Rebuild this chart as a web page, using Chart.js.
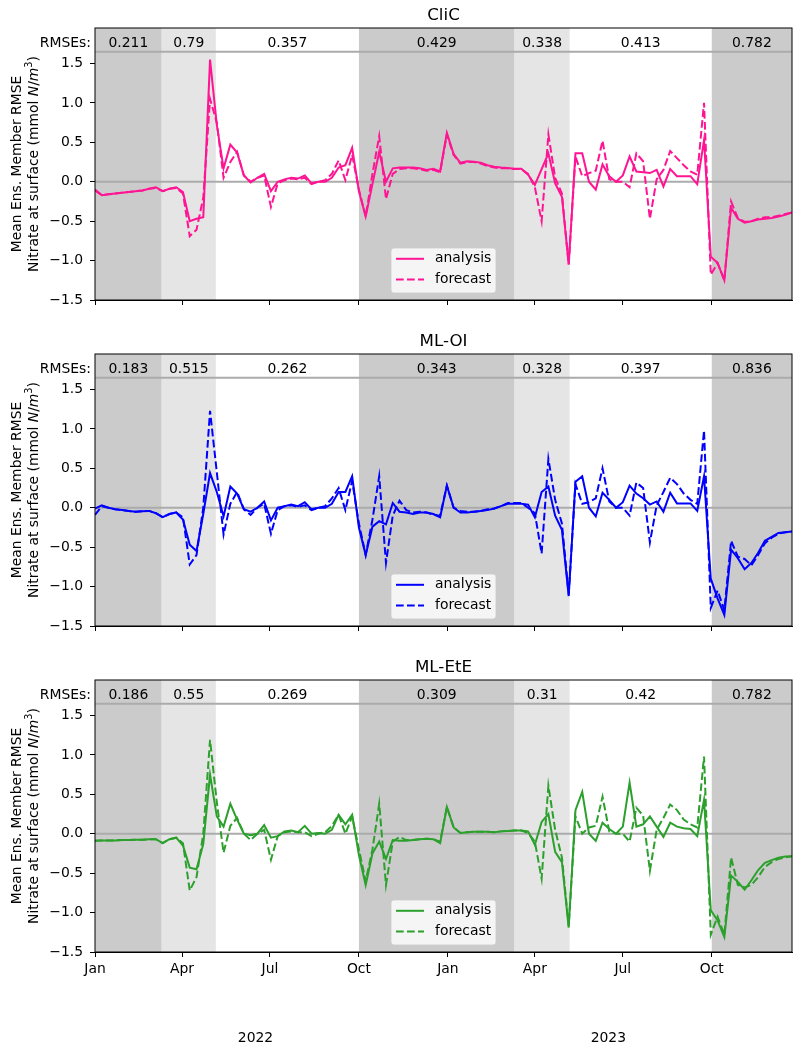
<!DOCTYPE html>
<html>
<head>
<meta charset="utf-8">
<script src="https://cdn.jsdelivr.net/npm/chart.js@4.4.0/dist/chart.umd.min.js"></script>
<style>
  body { margin: 0; background: #fff; }
  canvas { position: absolute; left: 0; }
</style>
</head>
<body>
<canvas id="clic" width="802" height="326" style="top:0"></canvas>
<canvas id="mloi" width="802" height="326" style="top:326px"></canvas>
<canvas id="mlete" width="802" height="399" style="top:652px"></canvas>
<script>
// days since 2022-01-01, weekly
const days = [0, 7, 14, 21, 28, 35, 42, 49, 56, 63, 70, 77, 84, 91, 98, 105, 112, 119, 126, 133,
  140, 147, 154, 161, 168, 175, 182, 189, 196, 203, 210, 217, 224, 231, 238, 245, 252, 259, 266, 273,
  280, 287, 294, 301, 308, 315, 322, 329, 336, 343, 350, 357, 364, 371, 378, 385, 392, 399, 406, 413,
  420, 427, 434, 441, 448, 455, 462, 469, 476, 483, 490, 497, 504, 511, 518, 525, 532, 539, 546, 553,
  560, 567, 574, 581, 588, 595, 602, 609, 616, 623, 630, 637, 644, 651, 658, 665, 672, 679, 686, 693,
  700, 707, 714, 721];

const clicAnalysis = [-0.11, -0.17, -0.16, -0.15, -0.14, -0.13, -0.12, -0.11, -0.09, -0.07,
  -0.12, -0.09, -0.07, -0.13, -0.50, -0.47, -0.45, 1.55, 0.72, 0.17,
  0.47, 0.37, 0.08, -0.01, 0.05, 0.10, -0.12, 0.00, 0.03, 0.05,
  0.04, 0.08, -0.02, 0.00, 0.00, 0.05, 0.18, 0.21, 0.43, -0.12,
  -0.44, -0.03, 0.38, 0.00, 0.17, 0.18, 0.18, 0.18, 0.17, 0.15,
  0.165, 0.13, 0.62, 0.35, 0.24, 0.26, 0.255, 0.24, 0.21, 0.19,
  0.18, 0.175, 0.165, 0.165, 0.09, -0.04, 0.16, 0.36, -0.02, -0.19,
  -1.05, 0.36, 0.36, 0.00, -0.10, 0.22, 0.07, 0.00, 0.08, 0.32,
  0.13, 0.12, 0.11, 0.15, -0.06, 0.16, 0.07, 0.07, 0.07, -0.03,
  0.53, -0.95, -1.03, -1.25, -0.33, -0.47, -0.52, -0.50, -0.48, -0.47,
  -0.46, -0.44, -0.42, -0.39];
const clicForecast = [-0.10, -0.17, -0.16, -0.15, -0.14, -0.13, -0.12, -0.11, -0.09, -0.08,
  -0.12, -0.09, -0.08, -0.15, -0.69, -0.61, -0.20, 1.05, 0.75, 0.05,
  0.25, 0.38, 0.08, 0.00, 0.05, 0.08, -0.32, -0.02, 0.02, 0.04,
  0.03, 0.05, -0.03, 0.00, 0.02, 0.10, 0.27, 0.02, 0.34, -0.10,
  -0.44, 0.10, 0.58, -0.22, 0.10, 0.16, 0.17, 0.17, 0.16, 0.14,
  0.15, 0.12, 0.60, 0.34, 0.23, 0.25, 0.25, 0.23, 0.20, 0.18,
  0.17, 0.17, 0.16, 0.16, 0.10, -0.07, -0.50, 0.60, 0.05, -0.15,
  -1.05, 0.32, 0.07, 0.11, 0.14, 0.52, 0.03, 0.00, 0.00, -0.07,
  0.36, 0.26, -0.47, 0.03, 0.15, 0.39, 0.30, 0.21, 0.13, 0.09,
  1.00, -1.18, -1.03, -1.25, -0.25, -0.46, -0.51, -0.50, -0.47, -0.45,
  -0.45, -0.43, -0.41, -0.39];

const mloiAnalysis = [-0.01, 0.03, 0.00, -0.02, -0.03, -0.04, -0.05, -0.045, -0.04, -0.07,
  -0.12, -0.08, -0.06, -0.15, -0.47, -0.55, -0.08, 0.44, 0.20, -0.11,
  0.27, 0.18, -0.02, -0.05, 0.00, 0.08, -0.16, 0.00, 0.02, 0.04,
  0.02, 0.07, -0.02, 0.00, 0.00, 0.05, 0.20, 0.20, 0.40, -0.25,
  -0.60, -0.24, -0.17, -0.21, 0.06, -0.05, -0.06, -0.08, -0.06, -0.06,
  -0.08, -0.12, 0.28, 0.00, -0.06, -0.06, -0.05, -0.04, -0.03, -0.01,
  0.02, 0.05, 0.05, 0.05, 0.04, -0.12, 0.20, 0.27, -0.10, -0.28,
  -1.12, 0.33, 0.40, 0.00, -0.11, 0.19, 0.10, 0.00, 0.07, 0.28,
  0.18, 0.12, 0.04, 0.08, -0.05, 0.19, 0.055, 0.055, 0.055, -0.04,
  0.40, -0.90, -1.15, -1.36, -0.53, -0.64, -0.78, -0.70, -0.57, -0.42,
  -0.37, -0.32, -0.31, -0.30];
const mloiForecast = [-0.09, 0.02, 0.00, -0.02, -0.03, -0.04, -0.05, -0.045, -0.04, -0.07,
  -0.12, -0.08, -0.06, -0.12, -0.72, -0.60, 0.00, 1.23, 0.45, -0.34,
  0.05, 0.20, -0.02, -0.09, 0.00, 0.05, -0.33, -0.03, 0.02, 0.03,
  0.01, 0.03, -0.03, 0.00, 0.02, 0.12, 0.25, -0.03, 0.34, -0.20,
  -0.60, -0.15, 0.40, -0.70, -0.10, 0.09, -0.03, -0.06, -0.05, -0.06,
  -0.09, -0.10, 0.28, 0.00, -0.04, -0.05, -0.05, -0.04, -0.02, -0.01,
  0.02, 0.06, 0.06, 0.06, 0.00, -0.07, -0.58, 0.62, 0.10, -0.20,
  -1.10, 0.30, 0.05, 0.07, 0.12, 0.50, 0.08, 0.00, 0.00, -0.10,
  0.32, 0.25, -0.44, 0.03, 0.20, 0.38, 0.30, 0.18, 0.10, 0.05,
  0.98, -1.27, -1.05, -1.30, -0.42, -0.62, -0.65, -0.73, -0.60, -0.45,
  -0.38, -0.33, -0.31, -0.30];

const mleteAnalysis = [-0.09, -0.085, -0.085, -0.085, -0.08, -0.08, -0.075, -0.075, -0.07, -0.07,
  -0.12, -0.07, -0.05, -0.15, -0.43, -0.45, -0.13, 0.75, 0.22, 0.09,
  0.38, 0.18, 0.00, -0.02, 0.00, 0.11, -0.05, -0.03, 0.03, 0.04,
  0.02, 0.10, 0.00, 0.01, 0.00, 0.05, 0.24, 0.12, 0.24, -0.27,
  -0.65, -0.25, -0.10, -0.32, -0.08, -0.09, -0.09, -0.08, -0.07, -0.065,
  -0.07, -0.12, 0.34, 0.08, 0.01, 0.02, 0.025, 0.025, 0.025, 0.02,
  0.03, 0.035, 0.04, 0.04, 0.03, -0.14, 0.15, 0.25, -0.23, -0.36,
  -1.19, 0.30, 0.53, 0.00, -0.09, 0.14, 0.06, 0.00, 0.09, 0.65,
  0.09, 0.12, 0.22, 0.09, -0.04, 0.14, 0.09, 0.07, 0.06, -0.03,
  0.43, -0.97, -1.10, -1.31, -0.53, -0.61, -0.71, -0.59, -0.46, -0.37,
  -0.335, -0.305, -0.29, -0.285];
const mleteForecast = [-0.09, -0.085, -0.085, -0.085, -0.08, -0.08, -0.075, -0.075, -0.07, -0.07,
  -0.12, -0.07, -0.05, -0.12, -0.72, -0.55, 0.00, 1.19, 0.40, -0.24,
  0.10, 0.20, 0.00, -0.08, 0.00, 0.05, -0.33, -0.03, 0.02, 0.03,
  0.02, 0.02, -0.03, 0.00, 0.02, 0.10, 0.24, 0.00, 0.22, -0.20,
  -0.60, -0.20, 0.38, -0.65, -0.10, -0.04, -0.08, -0.08, -0.07, -0.065,
  -0.07, -0.10, 0.34, 0.08, 0.01, 0.02, 0.025, 0.025, 0.025, 0.02,
  0.03, 0.035, 0.04, 0.04, 0.01, -0.10, -0.57, 0.61, 0.05, -0.30,
  -1.17, 0.22, 0.00, 0.08, 0.10, 0.47, 0.03, 0.00, 0.00, -0.10,
  0.33, 0.23, -0.47, 0.05, 0.20, 0.37, 0.30, 0.18, 0.12, 0.08,
  0.98, -1.28, -1.05, -1.28, -0.30, -0.65, -0.68, -0.65, -0.55, -0.42,
  -0.36, -0.32, -0.30, -0.285];

// season blocks (kind 0 = dark, 1 = light, 2 = none) and their RMSEs
const regionStart = [0, 69, 125, 273, 434, 491, 638];
const regionEnd = [69, 125, 273, 434, 491, 638, 721];
const regionKind = [0, 1, 2, 0, 1, 2, 0];
const clicRmse = [0.211, 0.79, 0.357, 0.429, 0.338, 0.413, 0.782];
const mloiRmse = [0.183, 0.515, 0.262, 0.343, 0.328, 0.397, 0.836];
const mleteRmse = [0.186, 0.55, 0.269, 0.309, 0.31, 0.42, 0.782];

const tickDays = [0, 90, 181, 273, 365, 455, 546, 638];
const tickLabels = ['Jan', 'Apr', 'Jul', 'Oct', 'Jan', 'Apr', 'Jul', 'Oct'];
const yTicks = [-1.5, -1.0, -0.5, 0.0, 0.5, 1.0, 1.5];
const yearLabels = ['2022', '2023'];
const yearLabelDays = [166, 531];

const FONT = 'DejaVu Sans';
const rmseLineLevel = 1.65;
const rmseTextLevel = 1.76;

const shade = ['#cbcbcb', '#e5e5e5', null];

function richLabel(ctx, parts, cx, baseline) {
  let total = 0;
  parts.forEach(p => {
    ctx.font = (p.it ? 'italic ' : '') + (p.sup ? 9.7 : 13.9) + 'px ' + FONT;
    p.w = ctx.measureText(p.t).width;
    total += p.w;
  });
  let px = cx - total / 2;
  parts.forEach(p => {
    ctx.font = (p.it ? 'italic ' : '') + (p.sup ? 9.7 : 13.9) + 'px ' + FONT;
    ctx.fillText(p.t, px, p.sup ? baseline - 6 : baseline);
    px += p.w;
  });
}

const decor = {
  id: 'decor',
  beforeDatasetsDraw(chart) {
    const { ctx, chartArea: a, scales: { x, y } } = chart;
    ctx.save();
    regionStart.forEach((s, i) => {
      const c = shade[regionKind[i]];
      if (!c) return;
      const x0 = x.getPixelForValue(s), x1 = x.getPixelForValue(regionEnd[i]);
      ctx.fillStyle = c;
      ctx.fillRect(x0, a.top, x1 - x0, a.bottom - a.top);
    });
    ctx.strokeStyle = '#ababab';
    ctx.lineWidth = 2;
    [0, rmseLineLevel].forEach(v => {
      const py = y.getPixelForValue(v);
      ctx.beginPath();
      ctx.moveTo(a.left, py);
      ctx.lineTo(a.right, py);
      ctx.stroke();
    });
    ctx.restore();
  },
  afterDraw(chart) {
    const { ctx, chartArea: a, scales: { x, y } } = chart;
    const o = chart.options.plugins.decor;
    ctx.save();
    ctx.fillStyle = '#000';

    // RMSE texts
    const ty = y.getPixelForValue(rmseTextLevel);
    ctx.font = '13.9px ' + FONT;
    ctx.textBaseline = 'middle';
    ctx.textAlign = 'center';
    o.rmse.forEach((r, i) => {
      const cx = (x.getPixelForValue(regionStart[i]) + x.getPixelForValue(regionEnd[i])) / 2;
      ctx.fillText(String(r), cx, ty);
    });
    ctx.textAlign = 'right';
    ctx.fillText('RMSEs:', a.left - 4, ty);

    // title
    ctx.font = '16.7px ' + FONT;
    ctx.textAlign = 'center';
    ctx.textBaseline = 'alphabetic';
    ctx.fillText(o.title, (a.left + a.right) / 2, a.top - 8);

    // frame
    ctx.strokeStyle = '#000';
    ctx.lineWidth = 1;
    ctx.strokeRect(a.left, a.top, a.right - a.left, a.bottom - a.top);

    // legend
    const bw = 105, bh = 45;
    const bx = (a.left + a.right) / 2 - bw / 2, by = a.bottom - 7 - bh;
    ctx.beginPath();
    ctx.roundRect(bx, by, bw, bh, 3);
    ctx.fillStyle = 'rgba(255,255,255,0.8)';
    ctx.fill();
    ctx.strokeStyle = 'rgba(204,204,204,0.8)';
    ctx.stroke();
    ctx.font = '13.9px ' + FONT;
    ctx.textAlign = 'left';
    ctx.textBaseline = 'middle';
    chart.data.datasets.forEach((ds, i) => {
      const ry = by + 10.8 + i * 20.7;
      ctx.strokeStyle = ds.borderColor;
      ctx.lineWidth = ds.borderWidth;
      ctx.setLineDash(ds.borderDash || []);
      ctx.beginPath();
      ctx.moveTo(bx + 5, ry);
      ctx.lineTo(bx + 33, ry);
      ctx.stroke();
      ctx.setLineDash([]);
      ctx.fillStyle = '#000';
      ctx.fillText(ds.label, bx + 44, ry);
    });

    // y axis label
    const cy = (a.top + a.bottom) / 2;
    ctx.save();
    ctx.translate(0, cy);
    ctx.rotate(-Math.PI / 2);
    ctx.textAlign = 'center';
    ctx.textBaseline = 'alphabetic';
    ctx.font = '13.9px ' + FONT;
    ctx.fillText('Mean Ens. Member RMSE', 0, 20.5);
    ctx.textAlign = 'left';
    richLabel(ctx, [
      { t: 'Nitrate at surface (mmol ' },
      { t: 'N', it: true },
      { t: '/' },
      { t: 'm', it: true },
      { t: '3', sup: true },
      { t: ')' }
    ], 0, 38);
    ctx.restore();

    // year labels
    if (o.years) {
      ctx.font = '13.9px ' + FONT;
      ctx.textAlign = 'center';
      ctx.textBaseline = 'middle';
      ctx.fillStyle = '#000';
      yearLabels.forEach((t, i) => ctx.fillText(t, x.getPixelForValue(yearLabelDays[i]), 386));
    }
    ctx.restore();
  }
};

function fmt(v) {
  return v.toFixed(1).replace('-', '\u2212');
}

function makePanel(id, title, color, ana, fc, rmse, bottom) {
  const font = { family: FONT, size: 13.9 };
  return new Chart(document.getElementById(id), {
    type: 'line',
    data: {
      datasets: [
        { label: 'analysis', data: days.map((d, i) => ({ x: d, y: ana[i] })),
          borderColor: color, borderWidth: 2, pointRadius: 0, tension: 0 },
        { label: 'forecast', data: days.map((d, i) => ({ x: d, y: fc[i] })),
          borderColor: color, borderWidth: 2, borderDash: [7.7, 3.3], pointRadius: 0, tension: 0 }
      ]
    },
    options: {
      responsive: false,
      animation: false,
      devicePixelRatio: 1,
      layout: { padding: { top: 28, right: 10, left: 0, bottom: 0 } },
      plugins: {
        legend: { display: false },
        tooltip: { enabled: false },
        decor: { title: title, rmse: rmse, years: bottom }
      },
      scales: {
        x: {
          type: 'linear', min: 0, max: 721,
          afterBuildTicks: s => { s.ticks = tickDays.map(v => ({ value: v })); },
          afterFit: s => { s.height = bottom ? 99 : 26; },
          ticks: { callback: (v, i) => bottom ? tickLabels[i] : '', font: font, color: '#000',
            autoSkip: false, maxRotation: 0, padding: 4 },
          grid: { drawOnChartArea: false, tickLength: 5, color: '#000' },
          border: { color: '#000', width: 1 }
        },
        y: {
          min: -1.5, max: 1.95,
          afterBuildTicks: s => { s.ticks = yTicks.map(v => ({ value: v })); },
          afterFit: s => { s.width = 95; },
          ticks: { callback: v => fmt(v), font: font, color: '#000', autoSkip: false, padding: 7 },
          grid: { drawOnChartArea: false, tickLength: 5, color: '#000' },
          border: { color: '#000', width: 1 }
        }
      }
    },
    plugins: [decor]
  });
}

makePanel('clic', 'CliC', '#ff1493', clicAnalysis, clicForecast, clicRmse, false);
makePanel('mloi', 'ML-OI', '#0000ff', mloiAnalysis, mloiForecast, mloiRmse, false);
makePanel('mlete', 'ML-EtE', '#2ca02c', mleteAnalysis, mleteForecast, mleteRmse, true);
</script>
</body>
</html>
